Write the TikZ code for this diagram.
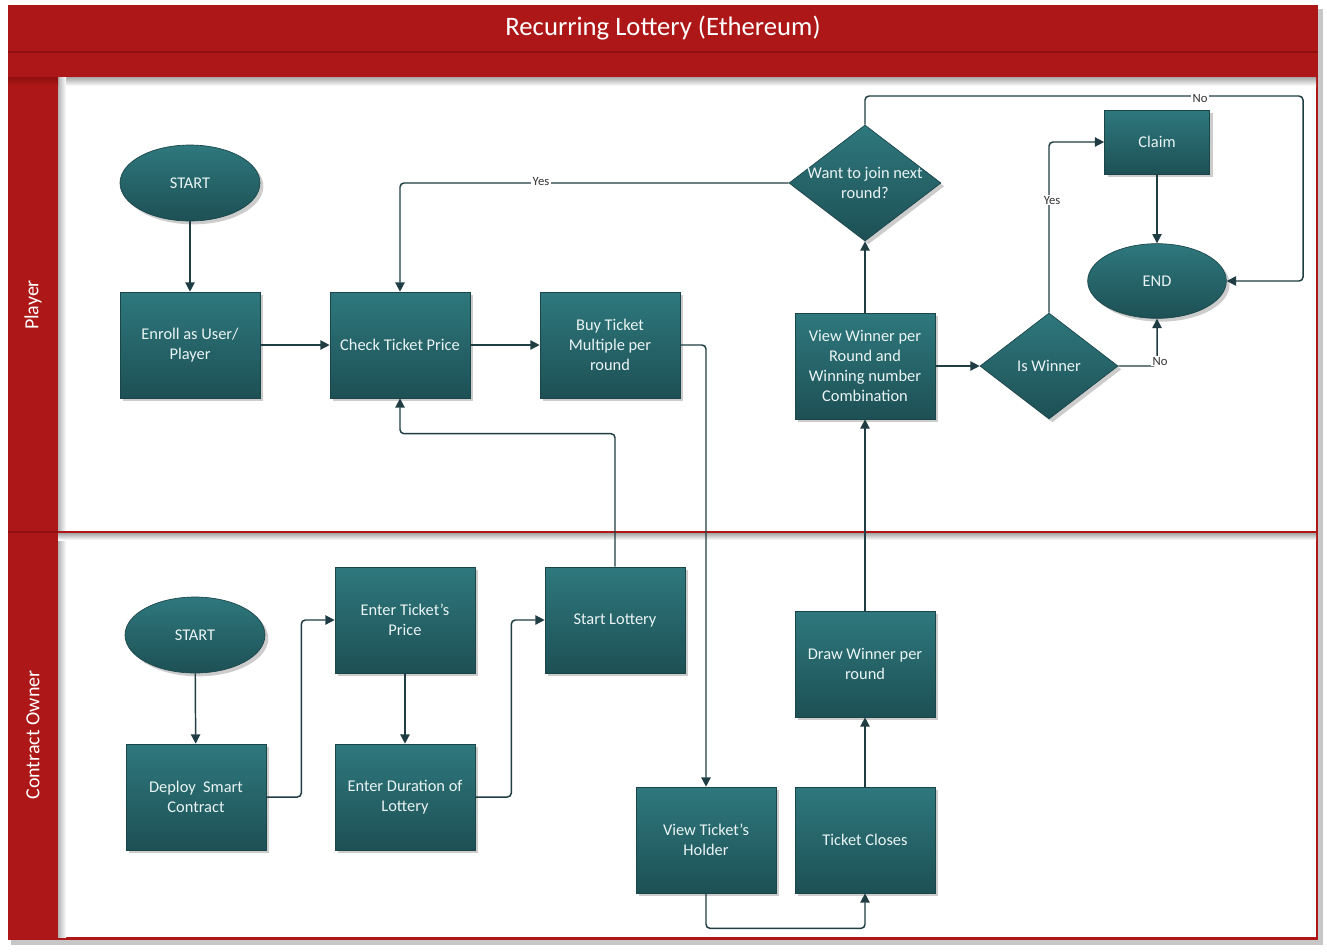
\documentclass[tikz,border=0pt]{standalone}
\usepackage{fontspec}
\setmainfont{Carlito}
\usetikzlibrary{shapes.geometric,shadows,arrows.meta,calc}
\definecolor{lred}{HTML}{AD1717}
\definecolor{dred}{HTML}{8E1010}
\definecolor{boxtop}{HTML}{2E787D}
\definecolor{boxbot}{HTML}{1D5055}
\definecolor{boxedge}{HTML}{1A4549}
\definecolor{linec}{HTML}{1F3D42}
\definecolor{boxtext}{HTML}{EAF4F4}
\definecolor{lblc}{HTML}{333333}
\tikzset{
  fc/.style={shading=axis, top color=boxtop, bottom color=boxbot, draw=boxedge, line width=0.5pt,
    text=boxtext, font=\fontsize{12.3}{15}\selectfont, align=center,
    drop shadow={opacity=0.4, shadow xshift=2.5pt, shadow yshift=-2.5pt}},
  procbox/.style={fc, rectangle, minimum width=105pt, minimum height=79.5pt, inner sep=2pt},
  term/.style={fc, ellipse, minimum width=105pt, minimum height=57pt, inner sep=0pt},
  dec/.style={fc, diamond, inner sep=0pt},
  dtext/.style={text=boxtext, font=\fontsize{12.3}{15}\selectfont, align=center},
  conn/.style={draw=linec, line width=1.1pt, rounded corners=3pt, -{Triangle[width=7pt,length=7pt]}},
  lbl/.style={fill=white, inner sep=1pt, font=\fontsize{9.5}{10}\selectfont, text=lblc},
  lane/.style={rotate=90, text=white, font=\fontsize{15}{18}\selectfont},
}
\begin{document}
\begin{tikzpicture}[x=0.75pt,y=-0.75pt]
\useasboundingbox (0,0) rectangle (1327,951);
% frame
\fill[black, opacity=0.22] (11,9) rectangle (1323,945);
\fill[lred] (8,5) rectangle (1318,940);
\fill[white] (58,77) rectangle (1316,937);
\shade[top color=black!35, bottom color=white] (58,77) rectangle (1316,86);
\shade[left color=black!30, right color=white] (58,77) rectangle (66,937);
\shade[top color=dred, bottom color=lred] (8,77) rectangle (58,85);
\draw[dred, line width=1pt] (8,52) -- (1318,52);
\shade[top color=black!35, bottom color=white] (58,533) rectangle (1316,540);
\draw[lred, line width=1.8pt] (58,532) -- (1318,532);
\draw[dred, line width=1.5pt] (8,532) -- (58,532);
\node[text=white, font=\fontsize{20}{24}\selectfont] (title) at (663,28) {Recurring Lottery (Ethereum)};
\node[lane] (lane1) at (33,305) {Player};
\node[lane] (lane2) at (33,735) {Contract Owner};

% player lane
\node[term] (start1) at (190,183) {START};
\node[procbox] (enroll) at (190,345) {Enroll as User/\\Player};
\node[procbox] (check) at (400,345) {Check Ticket Price};
\node[procbox] (buy) at (610,345) {Buy Ticket\\Multiple per\\round};
\node[dec, minimum width=114pt, minimum height=87pt] (want) at (865,183) {};
\node[dtext] (wantT) at (865,183) {Want to join next\\round?};
\node[procbox] (vw) at (865,366) {View Winner per\\Round and\\Winning number\\Combination};
\node[dec, minimum width=103.5pt, minimum height=79.5pt] (isw) at (1049,366) {};
\node[dtext] (iswT) at (1049,366) {Is Winner};
\node[fc, rectangle, minimum width=78.75pt, minimum height=48pt] (claim) at (1157,142) {Claim};
\node[term, minimum width=104pt, minimum height=56pt] (endE) at (1157,281) {END};

% owner lane
\node[term] (start2) at (195,635) {START};
\node[procbox] (deploy) at (196,797) {Deploy\ \ Smart\\Contract};
\node[procbox] (price) at (405,620) {Enter Ticket’s\\Price};
\node[procbox] (dur) at (405,797) {Enter Duration of\\Lottery};
\node[procbox] (startl) at (615,620) {Start Lottery};
\node[procbox] (draw) at (865,664) {Draw Winner per\\round};
\node[procbox] (holder) at (706,840) {View Ticket’s\\Holder};
\node[procbox] (closes) at (865,840) {Ticket Closes};

% connectors
\draw[conn] (start1) -- (enroll);
\draw[conn] (enroll) -- (check);
\draw[conn] (check) -- (buy);
\draw[conn] (buy.east) -| (holder.north);
\draw[conn] (holder.south) -- ++(0,35) -| (closes.south);
\draw[conn] (closes) -- (draw);
\draw[conn] (draw) -- (vw);
\draw[conn] (vw) -- (want.south);
\draw[conn] (vw) -- (isw.west);
\draw[conn] (want.west) -| (check.north);
\draw[conn] (want.north) |- (1303,96) |- (endE.east);
\draw[conn] (isw.north) |- (claim.west);
\draw[conn] (isw.east) -| (endE.south);
\draw[conn] (claim) -- (endE);
\draw[conn] (start2) -- (deploy);
\draw[conn] (deploy.east) -- ++(35,0) |- (price.west);
\draw[conn] (price) -- (dur);
\draw[conn] (dur.east) -- ++(36,0) |- (startl.west);
\draw[conn] (startl.north) -- ++(0,-133) -| (check.south);

% labels
\node[lbl] (yesA) at (541,181) {Yes};
\node[lbl] (noA) at (1200,98) {No};
\node[lbl] (yesB) at (1052,200) {Yes};
\node[lbl] (noB) at (1160,361) {No};
\end{tikzpicture}
\end{document}
